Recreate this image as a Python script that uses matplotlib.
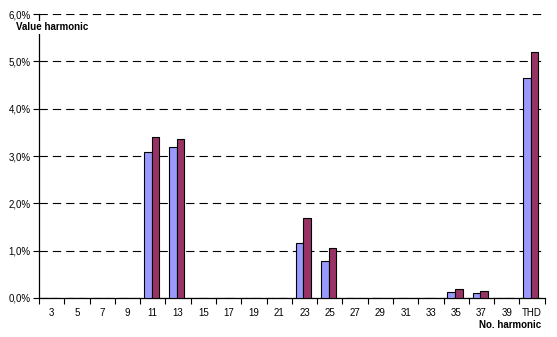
import matplotlib
matplotlib.use("Agg")
import matplotlib.pyplot as plt
import numpy as np
from matplotlib.ticker import FuncFormatter, MultipleLocator

categories = ["3", "5", "7", "9", "11", "13", "15", "17", "19", "21", "23", "25",
              "27", "29", "31", "33", "35", "37", "39", "THD"]
series_a = [0, 0, 0, 0, 3.08, 3.19, 0, 0, 0, 0, 1.16, 0.78, 0, 0, 0, 0, 0.12, 0.10, 0, 4.64]
series_b = [0, 0, 0, 0, 3.40, 3.36, 0, 0, 0, 0, 1.69, 1.05, 0, 0, 0, 0, 0.18, 0.15, 0, 5.19]

plt.rcParams['font.family'] = ['Liberation Sans', 'DejaVu Sans']

fig = plt.figure(figsize=(5.57, 3.37), dpi=100)
ax = fig.add_axes([0.070, 0.116, 0.908, 0.842])

x = np.arange(len(categories))
w = 0.3
ax.bar(x - w / 2 - 0.05, series_a, width=w, color="#9999FF", edgecolor="black", linewidth=0.8, zorder=3)
ax.bar(x + w / 2 - 0.05, series_b, width=w, color="#993366", edgecolor="black", linewidth=0.8, zorder=3)

ax.set_xlim(-0.5, len(categories) - 0.5)
ax.set_ylim(0, 6)
ax.yaxis.set_major_locator(MultipleLocator(1))
ax.yaxis.set_major_formatter(FuncFormatter(lambda v, p: f"{v:.1f}%".replace(".", ",")))
ax.yaxis.grid(True, color="black", linestyle=(0, (7.5, 4.5)), linewidth=0.8, zorder=0)

ax.set_xticks(x)
ax.set_xticklabels(categories)
ax.set_xticks(np.arange(-0.5, len(categories), 1), minor=True)
ax.tick_params(axis="x", which="major", length=0, pad=7, labelsize=7)
ax.tick_params(axis="x", which="minor", length=4, width=0.8, direction="out")
ax.tick_params(axis="y", length=4, width=0.8, direction="out", labelsize=7, pad=2)

for s in ["top", "right"]:
    ax.spines[s].set_visible(False)
for s in ["left", "bottom"]:
    ax.spines[s].set_linewidth(0.9)

fig.text(16 / 557, 1 - 27.5 / 337, "Value harmonic", fontsize=7, fontweight="bold", va="center", ha="left",
         bbox=dict(facecolor="white", edgecolor="none", pad=1), zorder=5)
fig.text(541 / 557, 1 - 324.5 / 337, "No. harmonic", fontsize=7, fontweight="bold", va="center", ha="right")

fig.savefig("out.png", dpi=100)
